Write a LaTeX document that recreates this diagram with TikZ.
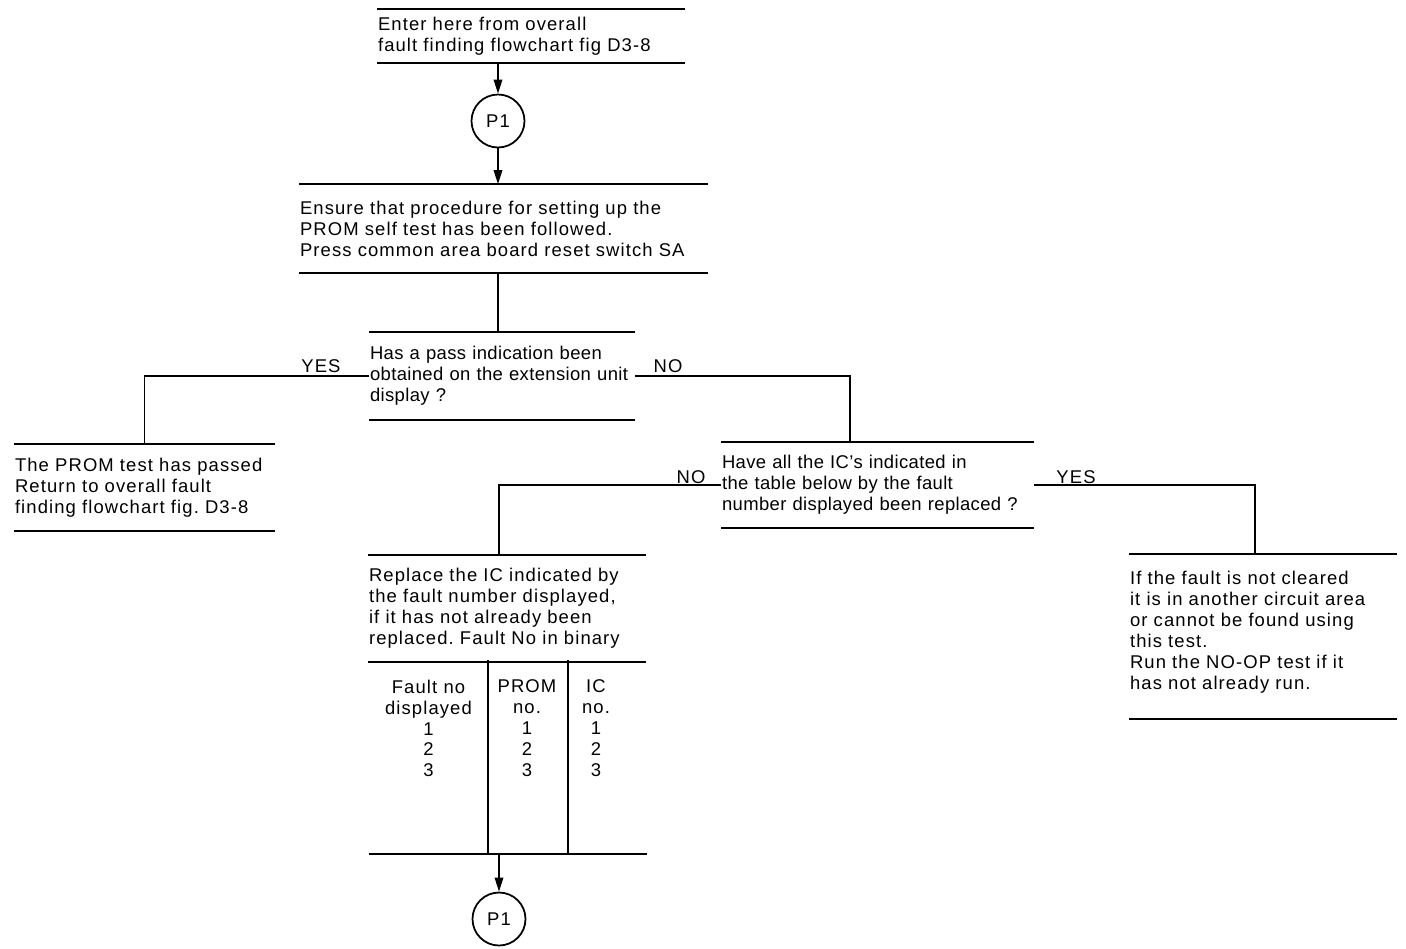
\documentclass[tikz,border=0pt]{standalone}
\usepackage{fontspec}
\setmainfont{Liberation Sans}[LetterSpace=6]
\usepackage{tikz}
\usetikzlibrary{positioning,arrows.meta}

\begin{document}
\frenchspacing
\begin{tikzpicture}[
			x=0.02cm, y=-0.02cm,
			line width=1pt,
			every node/.style={
				inner sep=0pt,
				font=\fontsize{10.5}{11.9}\selectfont
			},
			txt/.style 2 args={
				align=left,
				text width=#1,
				minimum height=#2
			},
			tight/.style={font=\fontsize{10.5}{11.9}\selectfont\addfontfeature{LetterSpace=2}},
			pnt/.style={circle,draw,minimum size=1.06cm},
			col/.style={anchor=north,align=center},
			arrow/.style={-{Triangle[length=0.28cm,width=0.17cm]}}
			]
			
			\useasboundingbox (0,0) rectangle (1406,948);
			
			\node[txt={6.12cm}{1.04cm}] (enter) at (531,36) {Enter here from overall\\fault finding flowchart fig D3-8};
			\node[pnt] (p1a) at (498,121) {P1};
			\node[txt={8.14cm}{1.74cm}] (ensure) at (503.5,228.5) {Ensure that procedure for setting up the\\PROM self test has been followed.\\Press common area board reset switch SA};
			\node[txt={5.28cm}{1.72cm},tight] (pass) at (502,376) {Has a pass indication been\\obtained on the extension unit\\display ?};
			\node[txt={5.18cm}{1.7cm}] (passed) at (144.5,487.5) {The PROM test has passed\\Return to overall fault\\finding flowchart fig. D3-8};
			\node[txt={6.22cm}{1.68cm},tight] (allrep) at (877.5,485) {Have all the IC's indicated in\\the table below by the fault\\number displayed been replaced ?};
			\node[txt={5.32cm}{3.26cm}] (notclr) at (1263,636.5) {If the fault is not cleared\\it is in another circuit area\\or cannot be found using\\this test.\\Run the NO-OP test if it\\has not already run.\\[-5pt]\mbox{}};
			\node[txt={5.52cm}{2.1cm}] (repl) at (507,608.5) {Replace the IC indicated by\\the fault number displayed,\\if it has not already been\\replaced. Fault No in binary};
			\node[minimum width=5.52cm,minimum height=3.84cm] (tab) at (508,757) {};
			\node[col,minimum width=2.34cm] (c1) at (428.5,679) {Fault no\\displayed\\1\\2\\3};
			\node[col,minimum width=1.6cm] (c2) at (527,679) {PROM\\no.\\1\\2\\3};
			\node[col] (c3) at (596,679) {IC\\no.\\1\\2\\3};
			\node[pnt] (p1b) at (499,919) {P1};
			
			\node (yes1) at (321,366) {YES};
			\node (no1) at (668,366) {NO};
			\node (no2) at (691,477) {NO};
			\node (yes2) at (1076,477) {YES};
			
			\coordinate (noA) at (850,0);
			\coordinate (noB) at (499,0);
			\coordinate (yesB) at (1255,0);
			
			\foreach \b in {enter,ensure,pass,passed,allrep,notclr,repl}
			\draw (\b.north west) -- (\b.north east) (\b.south west) -- (\b.south east);
			\draw (tab.south west) -- (tab.south east);
			\draw (c1.east |- tab.north) -- (c1.east |- tab.south);
			\draw (c2.east |- tab.north) -- (c2.east |- tab.south);
			
			\draw[arrow] (p1a |- enter.south) -- (p1a);
			\draw[arrow] (p1a) -- (p1a |- ensure.north);
			\draw (p1a |- ensure.south) -- (p1a |- pass.north);
			\draw (pass.west) -| (passed.north);
			\draw (pass.east) -| (noA |- allrep.north);
			\draw (allrep.west) -| (noB |- repl.north);
			\draw (allrep.east) -| (yesB |- notclr.north);
			\draw[arrow] (p1b |- tab.south) -- (p1b);
			
		\end{tikzpicture}
\end{document}
